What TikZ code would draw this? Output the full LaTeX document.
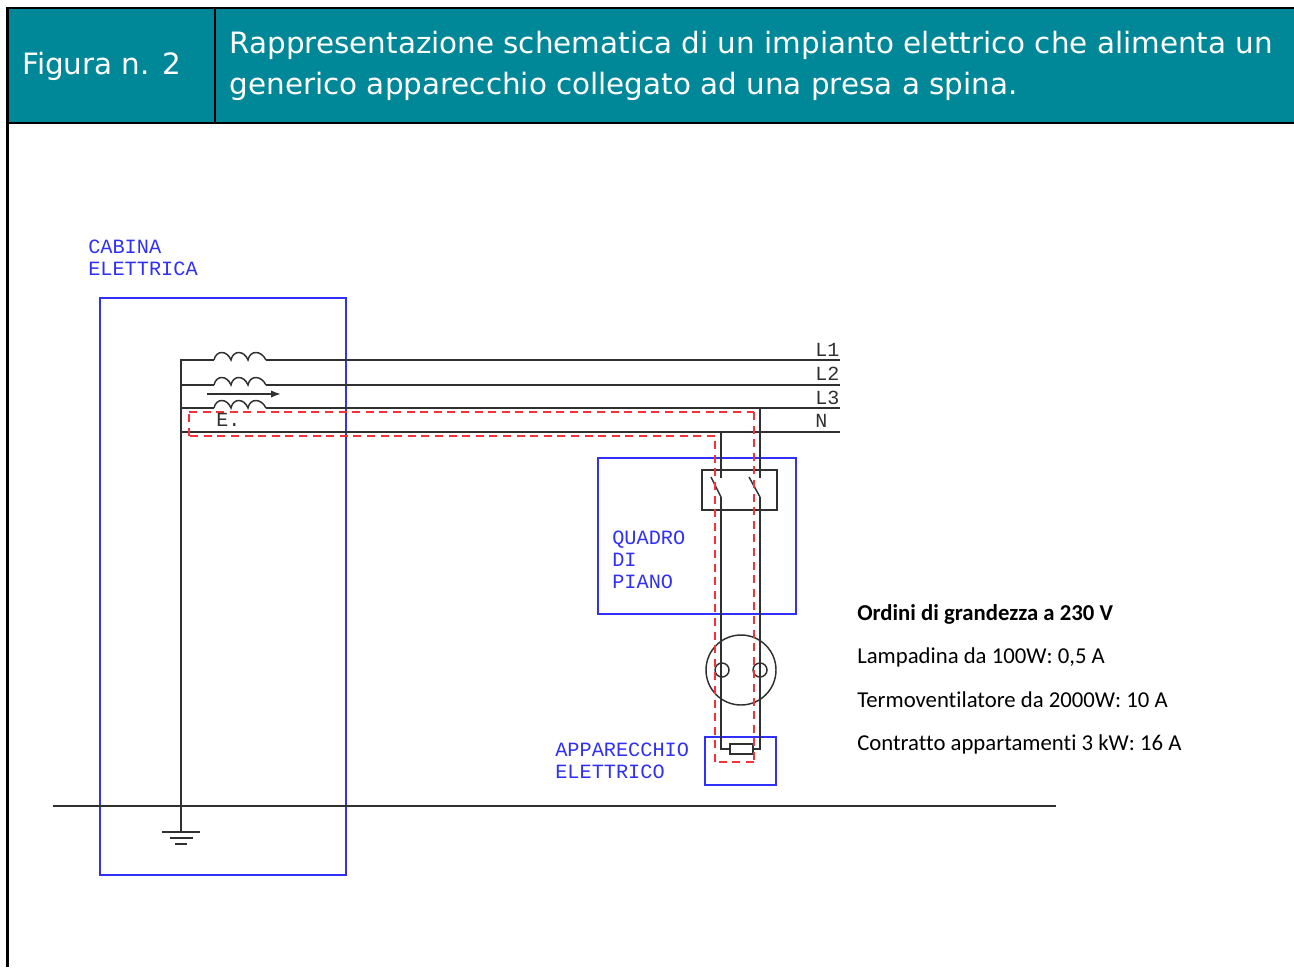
\documentclass[tikz,border=0pt]{standalone}
\usepackage{fontspec}
\setmainfont{DejaVu Sans}
\newfontfamily\calfont[Ligatures=NoCommon]{Carlito}
\newfontfamily\cadfont{Liberation Mono}
\usetikzlibrary{arrows.meta}
\definecolor{teal1}{HTML}{008798}
\definecolor{cadblue}{HTML}{3030F8}
\definecolor{cadred}{HTML}{F83038}
\definecolor{cadblack}{HTML}{303030}
\tikzset{
 x=0.75pt,y=-0.75pt,
 frame/.style={line width=1.6pt,black},
 wire/.style={line width=1.2pt,cadblack},
 thinw/.style={line width=1.1pt,cadblack},
 bluebox/.style={line width=1.2pt,cadblue},
 reddash/.style={line width=1.4pt,cadred,dash pattern=on 6pt off 4.2pt},
 headtext/.style={text=white,inner sep=0pt,font=\fontsize{22.05}{31.2}\selectfont},
 cadb/.style={text=cadblue,anchor=west,inner sep=0pt,align=left,font=\cadfont\fontsize{15.2}{16.5}\selectfont},
 cadk/.style={text=cadblack,anchor=west,inner sep=0pt,font=\cadfont\fontsize{15}{15}\selectfont},
 note/.style={text=black,anchor=base west,inner sep=0pt,font=\calfont\fontsize{17.05}{20}\selectfont},
 coilarc/.pic={
  \draw[thinw] (0,0) .. controls (2,-10) and (13,-10) .. (17,0)
    .. controls (19,-10) and (30,-10) .. (34,0)
    .. controls (36,-10) and (47,-10) .. (52,0);}
}
\begin{document}
\begin{tikzpicture}
\useasboundingbox (0,0) rectangle (1294,967);
% header
\fill[teal1] (7.5,8) rectangle (1294,123);
\draw[frame] (1294,8) -- (7.5,8) -- (7.5,967);
\draw[frame] (7.5,123) -- (1294,123);
\draw[frame] (215,8) -- (215,123);
\node[headtext,anchor=base west] (fig) at (22,74.5) {Figura n. 2};
\node[headtext,align=left,anchor=north west] (title) at (229.5,30.5) {Rappresentazione schematica di un impianto elettrico che alimenta un\\generico apparecchio collegato ad una presa a spina.};
% coordinates
\coordinate (l1a) at (181,360); \coordinate (l1b) at (214,360); \coordinate (l1c) at (266,360); \coordinate (l1e) at (840,360);
\coordinate (l2a) at (181,385); \coordinate (l2b) at (214,385); \coordinate (l2c) at (266,385); \coordinate (l2e) at (840,385);
\coordinate (l3a) at (181,408); \coordinate (l3b) at (214,408); \coordinate (l3c) at (266,408); \coordinate (l3e) at (840,408);
\coordinate (na) at (181,432); \coordinate (ne) at (840,432);
\coordinate (gnd) at (181,832);
\coordinate (earthL) at (53,806); \coordinate (earthR) at (1056,806);
% blue boxes
\draw[bluebox] (100,298) rectangle (346,875);
\draw[bluebox] (598,458) rectangle (796,614);
\draw[bluebox] (705,737) rectangle (776,785);
% lines
\draw[wire] (l1e) -- (l1c); \draw[wire] (l1b) -- (l1a) -- (gnd);
\draw[wire] (l2e) -- (l2c); \draw[wire] (l2b) -- (l2a);
\draw[wire] (l3e) -- (l3c); \draw[wire] (l3b) -- (l3a);
\draw[wire] (ne) -- (na);
\pic at (l1b) {coilarc};
\pic at (l2b) {coilarc};
\pic at (l3b) {coilarc};
\draw[wire,-{Latex[length=7.5pt,width=5.5pt]}] (207,394) -- (281,394);
\draw[wire] (earthL) -- (earthR);
% ground
\draw[thinw] (162,832) -- (200,832);
\draw[thinw] (170,838) -- (193,838);
\draw[thinw] (175,844) -- (187,844);
% switch
\draw[wire] (702,470) rectangle (777,510);
\coordinate (p1t) at (721,432); \coordinate (p1m) at (721,478); \coordinate (p1b) at (721,497);
\coordinate (p2t) at (760,408); \coordinate (p2m) at (760,478); \coordinate (p2b) at (760,497);
\draw[wire] (p1t) -- (p1m);
\draw[wire] (p2t) -- (p2m);
\draw[thinw] (711,477) -- (p1b);
\draw[thinw] (749,477) -- (p2b);
% socket
\draw[thinw] (741,670) circle[radius=35];
\draw[thinw] (722,670) circle[radius=7];
\draw[thinw] (760,670) circle[radius=7];
% appliance
\coordinate (rl) at (730,749); \coordinate (rr) at (753,749);
\draw[wire] (p1b) -- (721,749) -- (rl);
\draw[wire] (p2b) -- (760,749) -- (rr);
\draw[wire] (730,744) rectangle (753,754);
% red loop
\draw[reddash] (715,436) -- (189,436);
\draw[reddash] (189,436) -- (189,412);
\draw[reddash] (189,412) -- (754,412);
\draw[reddash] (754,412) -- (754,762);
\draw[reddash] (754,762) -- (715,762);
\draw[reddash] (715,762) -- (715,436);
% labels
\node[cadb] (cab) at (88,258) {CABINA\\ELETTRICA};
\node[cadb] (qua) at (612,560) {QUADRO\\DI\\PIANO};
\node[cadb] (app) at (555,761) {APPARECCHIO\\ELETTRICO};
\node[cadk] (e) at (216,420) {E.};
\node[cadk] (tl1) at (815,350) {L1};
\node[cadk] (tl2) at (815,374) {L2};
\node[cadk] (tl3) at (815,398) {L3};
\node[cadk] (tn) at (815,421) {N};
% notes
\node[note,font=\calfont\bfseries\fontsize{17.05}{20}\selectfont] (n0) at (857,620) {Ordini di grandezza a 230 V};
\node[note] (n1) at (857,663.5) {Lampadina da 100W: 0,5 A};
\node[note] (n2) at (857,707) {Termoventilatore da 2000W: 10 A};
\node[note] (n3) at (857,750.5) {Contratto appartamenti 3 kW: 16 A};
\end{tikzpicture}
\end{document}
